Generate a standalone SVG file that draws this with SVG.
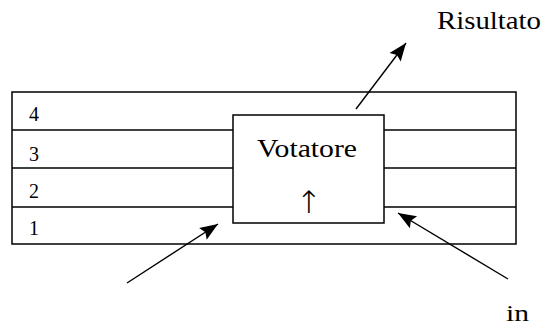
<svg xmlns="http://www.w3.org/2000/svg" width="544" height="327" viewBox="0 0 544 327">
<style>
.ln{stroke:#000;stroke-width:1.5;fill:none}
.t{font-family:"Liberation Serif","DejaVu Serif",serif;fill:#000}
.big{font-size:26px}
.num{font-size:20px}
.arr{stroke:#000;stroke-width:1.4;fill:none;marker-end:url(#ah)}
</style>
<defs>
<marker id="ah" markerUnits="userSpaceOnUse" markerWidth="22" markerHeight="18" viewBox="-20 -9 22 18" refX="0" refY="0" orient="auto">
<path d="M0,0 L-18,-7 L-15,0 L-18,7 z" fill="#000"/>
</marker>
</defs>
<g id="bus">
<rect class="ln" x="12" y="92" width="504" height="152"/>
<line class="ln" x1="12" y1="130" x2="516" y2="130"/>
<line class="ln" x1="12" y1="168" x2="516" y2="168"/>
<line class="ln" x1="12" y1="207" x2="516" y2="207"/>
<text class="t num" x="29" y="121">4</text>
<text class="t num" x="29" y="161">3</text>
<text class="t num" x="29" y="198">2</text>
<text class="t num" x="29" y="235">1</text>
</g>
<g id="votatore">
<rect x="233" y="115" width="151" height="108" fill="#fff" stroke="#000" stroke-width="1.5"/>
<text class="t big" x="257" y="157" textLength="100" lengthAdjust="spacingAndGlyphs">Votatore</text>
<text x="309" y="213" font-family="DejaVu Sans, sans-serif" font-weight="200" font-size="31px" text-anchor="middle" fill="#000">↑</text>
</g>
<g id="risultato">
<text class="t big" x="437" y="29" textLength="104" lengthAdjust="spacingAndGlyphs">Risultato</text>
</g>
<g id="in">
<text class="t" font-size="24px" x="506" y="321" textLength="23" lengthAdjust="spacingAndGlyphs">in</text>
</g>
<g id="connectors">
<line class="arr" x1="356" y1="109" x2="406" y2="43"/>
<line class="arr" x1="127" y1="283" x2="218" y2="224"/>
<line class="arr" x1="508" y1="279" x2="398" y2="213"/>
</g>
</svg>
